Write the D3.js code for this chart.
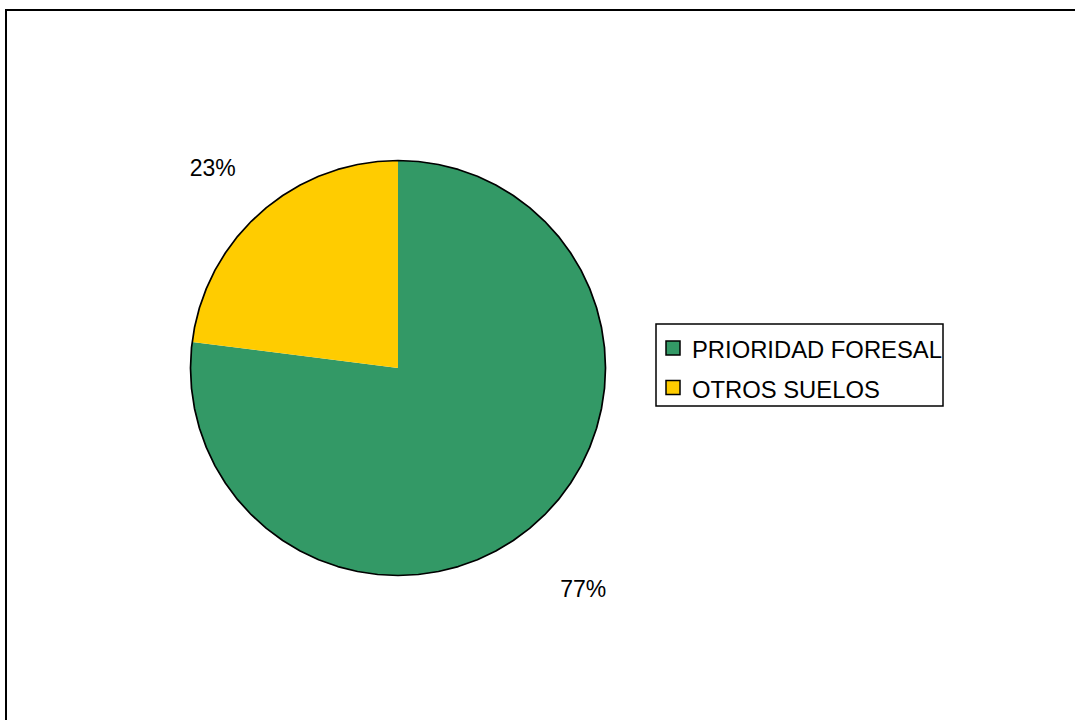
<!DOCTYPE html>
<html>
<head>
<meta charset="utf-8">
<script src="https://cdn.jsdelivr.net/npm/d3@7"></script>
<style>
  html, body { margin: 0; padding: 0; background: #ffffff; }
  svg { display: block; font-family: "Liberation Sans", Arial, sans-serif; }
</style>
</head>
<body>
<svg id="chart" width="1075" height="720"></svg>
<script>
// Land-use shares (percent)
const categories = ["PRIORIDAD FORESAL", "OTROS SUELOS"];
const values = [77, 23];
const colors = ["#339966", "#FFCC00"];

const svg = d3.select("#chart");
const W = 1075, H = 720;

// Outer chart frame (extends past the right and bottom of the view)
svg.append("rect")
  .attr("x", 6).attr("y", 10)
  .attr("width", W + 20).attr("height", H + 20)
  .attr("fill", "#fff")
  .attr("stroke", "#000")
  .attr("stroke-width", 2);

const cx = 398, cy = 368, r = 207.5;
const g = svg.append("g").attr("transform", `translate(${cx},${cy})`);

const data = categories.map((c, i) => ({ name: c, value: values[i], color: colors[i] }));
const pie = d3.pie().sort(null).value(d => d.value).startAngle(0).endAngle(2 * Math.PI);
const arcs = pie(data);

const arc = d3.arc().innerRadius(0).outerRadius(r);
g.selectAll("path.slice")
  .data(arcs)
  .enter().append("path")
  .attr("class", "slice")
  .attr("d", arc)
  .attr("fill", d => d.data.color);

// Outline traced as a many-sided polygon around the rim
const nSeg = 64;
const rim = d3.range(nSeg).map(i => [i / nSeg * 2 * Math.PI, r]);
g.append("path")
  .attr("d", d3.lineRadial().curve(d3.curveLinearClosed)(rim))
  .attr("fill", "none")
  .attr("stroke", "#000")
  .attr("stroke-width", 1.7)
  .attr("stroke-linejoin", "round");

// Percentage labels outside the slices
const fmt = v => Math.round(v) + "%";
const labelArc = d3.arc().innerRadius(r * 1.35).outerRadius(r * 1.35);
g.selectAll("text.pct")
  .data(arcs)
  .enter().append("text")
  .attr("class", "pct")
  .attr("transform", d => `translate(${labelArc.centroid(d)})`)
  .attr("text-anchor", "middle")
  .attr("dy", "0.8em")
  .attr("font-size", 23)
  .attr("fill", "#000")
  .text(d => fmt(d.data.value));

// Legend
const lg = svg.append("g").attr("transform", "translate(656,324)");
lg.append("rect")
  .attr("width", 287).attr("height", 82)
  .attr("fill", "#fff")
  .attr("stroke", "#000")
  .attr("stroke-width", 1.5);

const items = lg.selectAll("g.item")
  .data(data)
  .enter().append("g")
  .attr("class", "item")
  .attr("transform", (d, i) => `translate(10,${17 + i * 39.5})`);
items.append("rect")
  .attr("width", 14).attr("height", 14)
  .attr("fill", d => d.color)
  .attr("stroke", "#000")
  .attr("stroke-width", 1.5);
items.append("text")
  .attr("x", 26).attr("y", 17)
  .attr("font-size", 23.8)
  .attr("fill", "#000")
  .text(d => d.name);
</script>
</body>
</html>
